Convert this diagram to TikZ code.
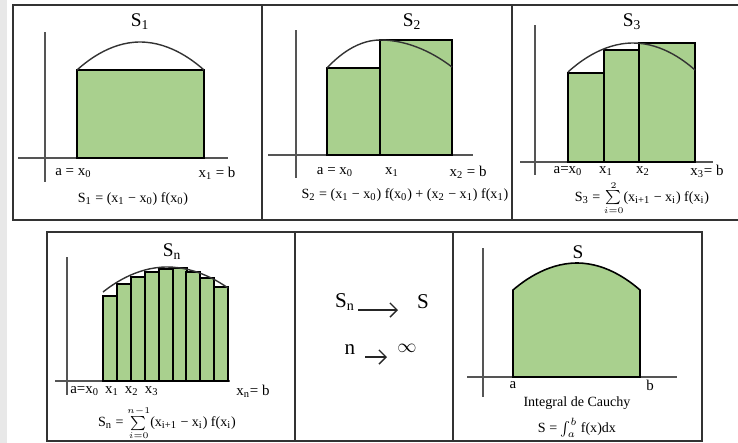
\documentclass[tikz,border=0pt]{standalone}
\usepackage{amsmath}
\usepackage{fontspec}
\setmainfont{Liberation Serif}
\usetikzlibrary{positioning,arrows.meta}
\definecolor{areagreen}{HTML}{A9D08E}
\definecolor{framegray}{HTML}{333333}
\definecolor{axisgray}{HTML}{555555}
\newcommand{\ix}[1]{\textsubscript{#1}}
\newcommand{\smallsum}[2]{$\mathop{\textstyle\sum}\limits_{\scriptscriptstyle #1}^{\scriptscriptstyle #2}$}

\begin{document}
\begin{tikzpicture}[x=0.02cm, y=-0.02cm,
    panelFrame/.style={draw=framegray, line width=1.1pt},
    axisLine/.style={draw=axisgray, line width=0.7pt},
    stripBar/.style={draw=black, fill=areagreen, line width=0.9pt},
    curveLine/.style={draw=black!80, line width=0.8pt},
    panelTitle/.style={font=\fontsize{11}{12}\selectfont, inner sep=0pt},
    tickLabel/.style={font=\fontsize{8.5}{9}\selectfont, inner sep=0pt},
    sumLabel/.style={font=\fontsize{8}{9}\selectfont, inner sep=0pt},
    limitText/.style={font=\fontsize{12}{13}\selectfont, inner sep=0pt},
    limitArrow/.style={draw=black!85, line width=0.8pt, -{Straight Barb[length=4pt]}}
]
    \clip (0,0) rectangle (738,443);
    \fill[black!9] (0,0) rectangle (7,443);

    % frames
    \draw[panelFrame] (13,5) rectangle (745,220);
    \draw[panelFrame] (262,5) -- (262,220);
    \draw[panelFrame] (512,5) -- (512,220);
    \draw[panelFrame] (47,232) rectangle (702,441);
    \draw[panelFrame] (295,232) -- (295,441);
    \draw[panelFrame] (453,232) -- (453,441);

    % S1
    \draw[axisLine] (45,32) -- (45,182);
    \draw[axisLine] (18,158) -- (228,158);
    \draw[stripBar] (77,70) rectangle (204,158);
    \draw[curveLine] (77,70) parabola bend (140,42) (204,70);
    \node[panelTitle] (t1) at (140,22) {S\ix{1}};
    \node[tickLabel, anchor=west] (a1) at (55,173) {a = x\ix{0}};
    \node[tickLabel] (b1) at (217,173) {x\ix{1} = b};
    \node[sumLabel] (f1) at (133,199) {S\ix{1} = (x\ix{1} − x\ix{0}) f(x\ix{0})};

    % S2
    \draw[axisLine] (296,30) -- (296,178);
    \draw[axisLine] (268,155) -- (473,155);
    \draw[stripBar] (327,68) rectangle (380,155);
    \draw[stripBar] (380,40) rectangle (452,155);
    \draw[curveLine] (327,68) parabola bend (380,40) (452,67);
    \node[panelTitle] (t2) at (412,22) {S\ix{2}};
    \node[tickLabel] (a2) at (335,172) {a = x\ix{0}};
    \node[tickLabel] (x2a) at (392,172) {x\ix{1}};
    \node[tickLabel] (b2) at (468,172) {x\ix{2} = b};
    \node[sumLabel] (f2) at (405,195) {S\ix{2} = (x\ix{1} − x\ix{0}) f(x\ix{0}) + (x\ix{2} − x\ix{1}) f(x\ix{1})};

    % S3
    \draw[axisLine] (535,25) -- (535,175);
    \draw[axisLine] (520,162) -- (713,162);
    \draw[stripBar] (568,73) rectangle (604,162);
    \draw[stripBar] (604,50) rectangle (639,162);
    \draw[stripBar] (639,43) rectangle (695,162);
    \draw[curveLine] (568,72) parabola bend (633,43) (695,70);
    \node[panelTitle] (t3) at (632,22) {S\ix{3}};
    \node[tickLabel] (a3) at (568,171) {a=x\ix{0}};
    \node[tickLabel] (x3a) at (606,171) {x\ix{1}};
    \node[tickLabel] (x3b) at (643,171) {x\ix{2}};
    \node[tickLabel] (b3) at (707,171) {x\ix{3}= b};
    \node[sumLabel] (f3) at (642,198) {S\ix{3} = \smallsum{i=0}{2}(x\ix{i+1} − x\ix{i}) f(x\ix{i})};

    % Sn
    \draw[axisLine] (67,257) -- (67,395);
    \draw[axisLine] (55,381) -- (230,381);
    \foreach \xl/\ytop in {103/296, 117/284, 131/277, 145/272, 159/269, 173/268, 186/272, 200/278, 214/287}
        \draw[stripBar] (\xl,\ytop) rectangle ++(14,381-\ytop);
    \draw[curveLine] (103,292) parabola bend (167,267) (228,288);
    \node[panelTitle] (t4) at (172,252) {S\ix{n}};
    \node[tickLabel, anchor=west] (a4) at (70,391) {a=x\ix{0}\, x\ix{1}\, x\ix{2}\, x\ix{3}};
    \node[tickLabel] (b4) at (253,391) {x\ix{n}= b};
    \node[sumLabel] (f4) at (167,423) {S\ix{n} = \smallsum{i=0}{n-1}(x\ix{i+1} − x\ix{i}) f(x\ix{i})};

    % limit
    \node[limitText] (sn) at (345,302) {S\ix{n}};
    \node[limitText] (s) at (423,302) {S};
    \coordinate (snArrowA) at (358,310);
    \coordinate (snArrowB) at (398,310);
    \draw[limitArrow] (snArrowA) -- (snArrowB);
    \node[limitText] (n) at (350,350) {n};
    \node[panelTitle] (inf) at (407,348) {$\infty$};
    \coordinate (nArrowA) at (365,357);
    \coordinate (nArrowB) at (387,357);
    \draw[limitArrow] (nArrowA) -- (nArrowB);

    % S
    \draw[axisLine] (483,248) -- (483,397);
    \draw[axisLine] (467,377) -- (677,377);
    \draw[stripBar] (513,377) -- (513,290) parabola bend (577,263) (640,290) -- (640,377) -- cycle;
    \node[panelTitle] (t6) at (578,252) {S};
    \node[tickLabel] (a6) at (513,385) {a};
    \node[tickLabel] (b6) at (650,385) {b};
    \node[sumLabel] (c6) at (577,403) {Integral de Cauchy};
    \node[sumLabel] (f6) at (577,428) {S = $\int_a^b$ f(x)dx};
\end{tikzpicture}
\end{document}
